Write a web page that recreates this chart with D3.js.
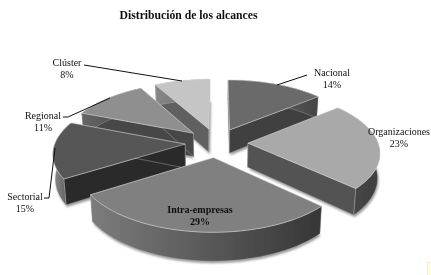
<!DOCTYPE html>
<html>
<head>
<meta charset="utf-8">
<script src="https://d3js.org/d3.v7.min.js"></script>
<style>
    html, body { margin: 0; padding: 0; background: #fff; }
    svg { display: block; }
    text { font-family: "Liberation Serif", serif; fill: #111; }
</style>
</head>
<body>
<svg id="chart" width="431" height="275"></svg>
<script>
var categories = ["Nacional", "Organizaciones", "Intra-empresas", "Sectorial", "Regional", "Clúster"];
var percents = [14, 23, 29, 15, 11, 8];

// grey of each slice: top, cut faces, outer wall left and right
var topColors = ["#6b6b6b", "#a9a9a9", "#808080", "#565656", "#8f8f8f", "#c5c5c5"];
var cutColors = ["#3f3f3f", "#525252", "#555555", "#2c2c2c", "#474747", "#606060"];
var wallLeft = ["#777777", "#4c4c4c", "#7c7c7c", "#8a8a8a", "#666666", "#888888"];
var wallRight = ["#444444", "#3e3e3e", "#363636", "#555555", "#444444", "#666666"];

// label anchors and leader lines
var labelX = [332, 399, 200, 25, 43, 67];
var labelY = [73, 132, 210, 197, 116, 63];
var leaders = [
    [[307, 75], [277, 85]],
    [],
    [],
    [[44, 198], [49, 198], [55, 148]],
    [[63, 117], [68, 117], [110, 98]],
    [[84, 65], [182, 81]]
];

var svg = d3.select("#chart");

var cx = 216.5, cy = 142.7,
    radius = 130,
    flat = 60,         // vertical size of the unit circle on screen
    persp = 0.136,
    explode = 0.242,
    depth = 24,
    squeeze = 0.985;   // lower face is a bit narrower

// x, z on the ground, h = 1 for the lower face
function project(x, z, h) {
    var w = 1 / (1 - persp * z),
        k = h ? squeeze : 1;
    return [cx + radius * x * w * k, cy + flat * z * w + (h ? depth * w : 0)];
}

var line = d3.line();

var arcs = d3.pie().sort(null).value(function(d) { return d; })(percents);

var defs = svg.append("defs");
var blur = defs.append("filter").attr("id", "soft")
    .attr("x", "-5%").attr("y", "-5%").attr("width", "110%").attr("height", "110%");
blur.append("feGaussianBlur").attr("stdDeviation", 0.35);
var textBlur = defs.append("filter").attr("id", "softText")
    .attr("x", "-5%").attr("y", "-5%").attr("width", "110%").attr("height", "110%");
textBlur.append("feGaussianBlur").attr("stdDeviation", 0.2);
var shadow = defs.append("filter").attr("id", "shadow")
    .attr("x", "-10%").attr("y", "-10%").attr("width", "120%").attr("height", "120%");
shadow.append("feGaussianBlur").attr("stdDeviation", 1.2);

var pieLayer = svg.append("g").attr("filter", "url(#soft)");

// back to front
var order = [5, 0, 4, 1, 3, 2];

order.forEach(function(i) {
    var d = arcs[i],
        mid = (d.startAngle + d.endAngle) / 2,
        ox = explode * Math.sin(mid),
        oz = -explode * Math.cos(mid);

    var steps = d3.range(0, 41).map(function(s) {
        return d.startAngle + (d.endAngle - d.startAngle) * s / 40;
    });
    function rim(a, h) { return project(ox + Math.sin(a), oz - Math.cos(a), h); }
    function apex(h) { return project(ox, oz, h); }

    var topRim = steps.map(function(a) { return rim(a, 0); }),
        lowRim = steps.map(function(a) { return rim(a, 1); });

    var g = pieLayer.append("g");

    // soft shadow under the slice
    g.append("path")
        .attr("d", line([apex(1)].concat(lowRim)) + "Z")
        .attr("transform", "translate(1,2)")
        .attr("fill", "#999")
        .attr("filter", "url(#shadow)");

    // the two cut faces
    [d.startAngle, d.endAngle].forEach(function(a) {
        g.append("path")
            .attr("d", line([apex(0), rim(a, 0), rim(a, 1), apex(1)]) + "Z")
            .attr("fill", cutColors[i])
            .attr("stroke", "#bbb")
            .attr("stroke-width", 0.4);
    });

    // outer wall
    var xs = d3.extent(topRim, function(p) { return p[0]; });
    var gradient = defs.append("linearGradient")
        .attr("id", "wall" + i)
        .attr("gradientUnits", "userSpaceOnUse")
        .attr("x1", xs[0]).attr("x2", xs[1])
        .attr("y1", 0).attr("y2", 0);
    gradient.append("stop").attr("offset", 0).attr("stop-color", wallLeft[i]);
    gradient.append("stop").attr("offset", 1).attr("stop-color", wallRight[i]);

    g.append("path")
        .attr("d", line(topRim.concat(lowRim.slice().reverse())) + "Z")
        .attr("fill", "url(#wall" + i + ")")
        .attr("stroke", "#ccc")
        .attr("stroke-width", 0.3);

    // top face
    g.append("path")
        .attr("d", line([apex(0)].concat(topRim)) + "Z")
        .attr("fill", topColors[i])
        .attr("stroke", "#e4e4e4")
        .attr("stroke-width", 0.5);
});

// leader lines
leaders.forEach(function(pts) {
    if (!pts.length) return;
    svg.append("path")
        .attr("d", line(pts))
        .attr("fill", "none")
        .attr("stroke", "#111")
        .attr("stroke-width", 1);
});

var textLayer = svg.append("g").attr("filter", "url(#softText)");

// labels
categories.forEach(function(name, i) {
    var bold = name === "Intra-empresas" ? "bold" : "normal";
    var label = textLayer.append("text")
        .attr("text-anchor", "middle")
        .attr("font-size", 10)
        .attr("font-weight", bold);
    label.append("tspan").attr("x", labelX[i]).attr("y", labelY[i] + 3).text(name);
    label.append("tspan").attr("x", labelX[i]).attr("y", labelY[i] + 14.5).text(percents[i] + "%");
});

textLayer.append("text")
    .attr("x", 188.5)
    .attr("y", 19)
    .attr("text-anchor", "middle")
    .attr("font-size", 11.7)
    .attr("font-weight", "bold")
    .text("Distribución de los alcances");

// small note box cut off at the corner of the scan
svg.append("rect")
    .attr("x", 427.5).attr("y", 262.5)
    .attr("width", 5).attr("height", 14)
    .attr("fill", "#ffffd9")
    .attr("stroke", "#e0e0d0")
    .attr("stroke-width", 0.5);
</script>
</body>
</html>
